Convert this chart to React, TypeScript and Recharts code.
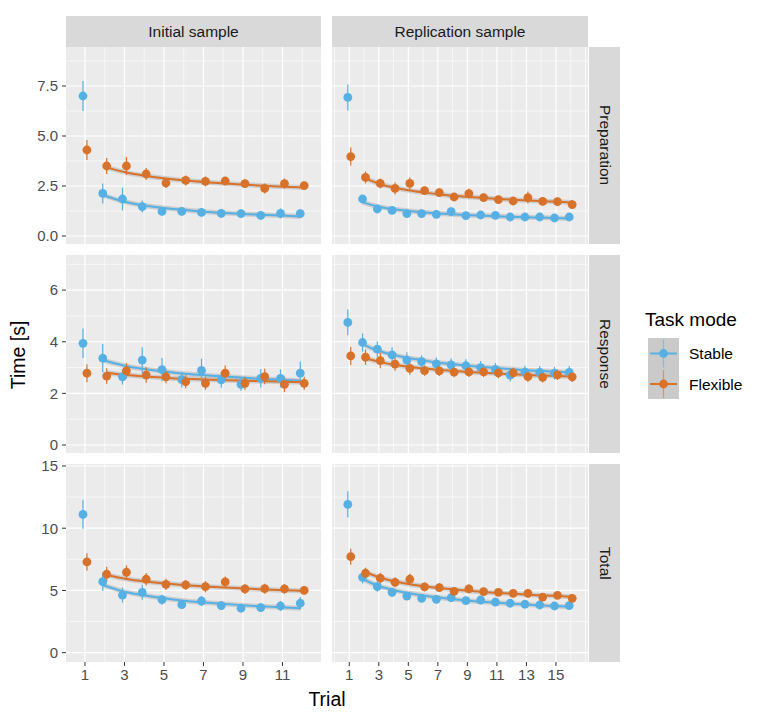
import React from "react";
import {
  ComposedChart,
  ErrorBar,
  Line,
  ReferenceLine,
  Scatter,
  XAxis,
  YAxis,
} from "recharts";

const STABLE = "#56B0E4";
const FLEX = "#D8722A";
const FONT = "Helvetica, Arial, 'Liberation Sans', sans-serif";

const columns = ["Initial sample", "Replication sample"];
const rows = ["Preparation", "Response", "Total"];

const trialsInitial = [1, 2, 3, 4, 5, 6, 7, 8, 9, 10, 11, 12];
const trialsReplication = [1, 2, 3, 4, 5, 6, 7, 8, 9, 10, 11, 12, 13, 14, 15, 16];

// --- Preparation ---
const prepInitStable = [7.0, 2.13, 1.85, 1.47, 1.23, 1.23, 1.18, 1.13, 1.12, 1.03, 1.13, 1.12];
const prepInitStableErr = [0.75, 0.5, 0.57, 0.3, 0.2, 0.2, 0.2, 0.2, 0.2, 0.2, 0.25, 0.2];
const prepInitFlex = [4.3, 3.5, 3.5, 3.1, 2.65, 2.78, 2.73, 2.75, 2.62, 2.38, 2.62, 2.52];
const prepInitFlexErr = [0.5, 0.4, 0.45, 0.3, 0.25, 0.25, 0.25, 0.2, 0.2, 0.25, 0.25, 0.2];
const prepInitStableFit = [2.05, 1.74, 1.54, 1.41, 1.31, 1.23, 1.16, 1.11, 1.06, 1.02, 0.98];
const prepInitFlexFit = [3.43, 3.17, 3.0, 2.87, 2.77, 2.69, 2.62, 2.56, 2.51, 2.46, 2.42];

const prepRepStable = [6.93, 1.85, 1.35, 1.28, 1.12, 1.12, 1.08, 1.22, 1.02, 1.05, 1.03, 0.95, 0.95, 0.95, 0.9, 0.95];
const prepRepStableErr = [0.65, 0.2, 0.15, 0.15, 0.12, 0.12, 0.12, 0.2, 0.12, 0.12, 0.12, 0.1, 0.1, 0.1, 0.1, 0.1];
const prepRepFlex = [3.97, 2.93, 2.63, 2.38, 2.63, 2.27, 2.17, 1.95, 2.12, 1.92, 1.82, 1.75, 1.92, 1.73, 1.72, 1.57];
const prepRepFlexErr = [0.45, 0.3, 0.25, 0.3, 0.3, 0.2, 0.2, 0.2, 0.25, 0.2, 0.2, 0.2, 0.3, 0.2, 0.2, 0.2];
const prepRepStableFit = [1.68, 1.48, 1.35, 1.26, 1.19, 1.14, 1.09, 1.05, 1.02, 0.99, 0.96, 0.94, 0.92, 0.9, 0.88];
const prepRepFlexFit = [2.88, 2.59, 2.41, 2.27, 2.17, 2.08, 2.01, 1.95, 1.9, 1.85, 1.81, 1.77, 1.74, 1.71, 1.68];

// --- Response ---
const respInitStable = [3.94, 3.36, 2.64, 3.29, 2.92, 2.53, 2.89, 2.52, 2.35, 2.58, 2.58, 2.78];
const respInitStableErr = [0.57, 0.55, 0.3, 0.5, 0.45, 0.3, 0.45, 0.3, 0.25, 0.35, 0.35, 0.45];
const respInitFlex = [2.78, 2.67, 2.87, 2.71, 2.64, 2.45, 2.39, 2.78, 2.39, 2.65, 2.35, 2.39];
const respInitFlexErr = [0.35, 0.3, 0.3, 0.3, 0.25, 0.25, 0.25, 0.3, 0.25, 0.3, 0.3, 0.25];
const respInitStableFit = [3.29, 3.09, 2.95, 2.86, 2.77, 2.71, 2.66, 2.61, 2.56, 2.53, 2.49];
const respInitFlexFit = [2.8, 2.71, 2.65, 2.6, 2.57, 2.54, 2.51, 2.49, 2.47, 2.45, 2.43];

const respRepStable = [4.75, 3.97, 3.71, 3.49, 3.29, 3.23, 3.14, 3.1, 3.07, 3.0, 2.93, 2.71, 2.82, 2.81, 2.78, 2.81];
const respRepStableErr = [0.5, 0.35, 0.3, 0.3, 0.3, 0.25, 0.25, 0.25, 0.25, 0.25, 0.25, 0.25, 0.25, 0.25, 0.25, 0.25];
const respRepFlex = [3.45, 3.4, 3.27, 3.13, 2.97, 2.88, 2.87, 2.82, 2.83, 2.83, 2.79, 2.79, 2.65, 2.62, 2.72, 2.64];
const respRepFlexErr = [0.35, 0.3, 0.3, 0.25, 0.25, 0.2, 0.2, 0.2, 0.2, 0.2, 0.2, 0.2, 0.2, 0.2, 0.2, 0.2];
const respRepStableFit = [3.91, 3.66, 3.5, 3.38, 3.29, 3.2, 3.14, 3.08, 3.03, 2.98, 2.94, 2.9, 2.87, 2.84, 2.81];
const respRepFlexFit = [3.36, 3.21, 3.1, 3.03, 2.96, 2.91, 2.87, 2.83, 2.8, 2.77, 2.74, 2.71, 2.69, 2.67, 2.65];

// --- Total ---
const totInitStable = [11.11, 5.7, 4.63, 4.85, 4.26, 3.86, 4.15, 3.78, 3.57, 3.62, 3.75, 3.97];
const totInitStableErr = [1.15, 0.75, 0.6, 0.6, 0.4, 0.35, 0.4, 0.35, 0.3, 0.35, 0.4, 0.5];
const totInitFlex = [7.29, 6.3, 6.46, 5.9, 5.49, 5.44, 5.3, 5.68, 5.12, 5.14, 5.12, 5.01];
const totInitFlexErr = [0.7, 0.6, 0.55, 0.5, 0.45, 0.4, 0.45, 0.45, 0.4, 0.4, 0.4, 0.35];
const totInitStableFit = [5.44, 4.94, 4.63, 4.39, 4.2, 4.05, 3.93, 3.82, 3.73, 3.64, 3.57];
const totInitFlexFit = [6.24, 5.92, 5.71, 5.55, 5.42, 5.32, 5.23, 5.15, 5.08, 5.02, 4.96];

const totRepStable = [11.92, 6.05, 5.3, 4.85, 4.55, 4.37, 4.29, 4.42, 4.18, 4.23, 4.07, 3.97, 3.89, 3.83, 3.75, 3.78];
const totRepStableErr = [1.05, 0.5, 0.4, 0.35, 0.3, 0.3, 0.3, 0.3, 0.3, 0.3, 0.3, 0.25, 0.25, 0.25, 0.25, 0.25];
const totRepFlex = [7.71, 6.38, 5.98, 5.65, 5.9, 5.28, 5.22, 4.93, 5.12, 4.9, 4.85, 4.77, 4.77, 4.47, 4.61, 4.37];
const totRepFlexErr = [0.65, 0.45, 0.45, 0.4, 0.45, 0.35, 0.35, 0.35, 0.35, 0.3, 0.3, 0.3, 0.35, 0.3, 0.3, 0.3];
const totRepStableFit = [5.92, 5.4, 5.06, 4.81, 4.61, 4.45, 4.32, 4.2, 4.1, 4.02, 3.94, 3.87, 3.8, 3.74, 3.69];
const totRepFlexFit = [6.46, 6.02, 5.72, 5.5, 5.33, 5.19, 5.08, 4.97, 4.88, 4.8, 4.73, 4.66, 4.6, 4.55, 4.5];

// axes
const xTicksInitial = [1, 3, 5, 7, 9, 11];
const xMinorInitial = [2, 4, 6, 8, 10, 12];
const xTicksReplication = [1, 3, 5, 7, 9, 11, 13, 15];
const xMinorReplication = [0, 2, 4, 6, 8, 10, 12, 14, 16, 17];
const xDomains: [number, number][] = [[0.04, 12.95], [-0.17, 17.17]];

const yTicks = [[0, 2.5, 5, 7.5], [0, 2, 4, 6], [0, 5, 10, 15]];
const yMinor = [[1.25, 3.75, 6.25, 8.75], [1, 3, 5, 7], [2.5, 7.5, 12.5]];
const yDomains: [number, number][] = [[-0.4, 9.45], [-0.31, 7.36], [-0.75, 15.16]];

const panels = [
  [
    [prepInitStable, prepInitStableErr, prepInitFlex, prepInitFlexErr, prepInitStableFit, prepInitFlexFit],
    [prepRepStable, prepRepStableErr, prepRepFlex, prepRepFlexErr, prepRepStableFit, prepRepFlexFit],
  ],
  [
    [respInitStable, respInitStableErr, respInitFlex, respInitFlexErr, respInitStableFit, respInitFlexFit],
    [respRepStable, respRepStableErr, respRepFlex, respRepFlexErr, respRepStableFit, respRepFlexFit],
  ],
  [
    [totInitStable, totInitStableErr, totInitFlex, totInitFlexErr, totInitStableFit, totInitFlexFit],
    [totRepStable, totRepStableErr, totRepFlex, totRepFlexErr, totRepStableFit, totRepFlexFit],
  ],
];

// layout
const COL_X = [66, 332];
const PANEL_W = [255, 256];
const ROW_Y = [47, 255, 464];
const PANEL_H = [197, 198, 198];
const Y_AXIS_W = 66;
const X_AXIS_H = 32;
const PAD = 10; // room for tick labels sitting on the panel edge
const DODGE = 0.1;

const tickStyle = { fontSize: 15, fill: "#4D4D4D", fontFamily: FONT };

const dot = (color: string) => (props: any) =>
  <circle cx={props.cx} cy={props.cy} r={4.4} fill={color} />;

function Panel({ row, col }: { row: number; col: number }) {
  const trials = col === 0 ? trialsInitial : trialsReplication;
  const [sMean, sErr, fMean, fErr, sFit, fFit] = panels[row][col];
  const sPts = trials.map((t, i) => ({ x: t - DODGE, y: sMean[i], err: sErr[i] }));
  const fPts = trials.map((t, i) => ({ x: t + DODGE, y: fMean[i], err: fErr[i] }));
  const sLine = trials.slice(1).map((t, i) => ({ x: t - DODGE, y: sFit[i] }));
  const fLine = trials.slice(1).map((t, i) => ({ x: t + DODGE, y: fFit[i] }));
  const showY = col === 0;
  const showX = row === 2;
  const w = PANEL_W[col] + (showY ? Y_AXIS_W : 0);
  const h = PANEL_H[row] + PAD + (showX ? X_AXIS_H : 0);
  const left = showY ? COL_X[col] - Y_AXIS_W : COL_X[col];
  const xMajor = col === 0 ? xTicksInitial : xTicksReplication;
  const xMinor = col === 0 ? xMinorInitial : xMinorReplication;

  return (
    <>
      <div
        style={{
          position: "absolute",
          left: COL_X[col],
          top: ROW_Y[row],
          width: PANEL_W[col],
          height: PANEL_H[row],
          background: "#EBEBEB",
        }}
      />
      <div style={{ position: "absolute", left, top: ROW_Y[row] - PAD }}>
        <ComposedChart width={w} height={h} margin={{ top: PAD, right: 0, bottom: 0, left: 0 }}>
          <XAxis
            type="number"
            dataKey="x"
            domain={xDomains[col]}
            allowDataOverflow
            ticks={xMajor}
            hide={!showX}
            height={X_AXIS_H}
            axisLine={false}
            tickSize={4}
            tickMargin={3}
            tickLine={{ stroke: "#333333" }}
            tick={tickStyle}
            interval={0}
          />
          <YAxis
            type="number"
            dataKey="y"
            domain={yDomains[row]}
            allowDataOverflow
            ticks={yTicks[row]}
            hide={!showY}
            width={Y_AXIS_W}
            axisLine={false}
            tickSize={4}
            tickMargin={4}
            tickLine={{ stroke: "#333333" }}
            tick={tickStyle}
            interval={0}
            tickFormatter={(v: number) => (row === 0 ? v.toFixed(1) : String(v))}
          />
          {yMinor[row].map((v) => (
            <ReferenceLine key={"ym" + v} y={v} stroke="#fff" strokeWidth={0.6} zIndex={-90} />
          ))}
          {xMinor.map((v) => (
            <ReferenceLine key={"xm" + v} x={v} stroke="#fff" strokeWidth={0.6} zIndex={-90} />
          ))}
          {yTicks[row].map((v) => (
            <ReferenceLine key={"y" + v} y={v} stroke="#fff" strokeWidth={1.2} zIndex={-80} />
          ))}
          {xMajor.map((v) => (
            <ReferenceLine key={"x" + v} x={v} stroke="#fff" strokeWidth={1.2} zIndex={-80} />
          ))}
          <Line data={sLine} dataKey="y" type="monotone" stroke="#999999" strokeOpacity={0.35} strokeWidth={5} dot={false} isAnimationActive={false} />
          <Line data={fLine} dataKey="y" type="monotone" stroke="#999999" strokeOpacity={0.35} strokeWidth={5} dot={false} isAnimationActive={false} />
          <Line data={sLine} dataKey="y" type="monotone" stroke={STABLE} strokeWidth={2} dot={false} isAnimationActive={false} />
          <Line data={fLine} dataKey="y" type="monotone" stroke={FLEX} strokeWidth={2} dot={false} isAnimationActive={false} />
          <Scatter data={sPts} dataKey="y" shape={dot(STABLE)} isAnimationActive={false}>
            <ErrorBar dataKey="err" direction="y" width={0} stroke={STABLE} strokeWidth={1.2} />
          </Scatter>
          <Scatter data={fPts} dataKey="y" shape={dot(FLEX)} isAnimationActive={false}>
            <ErrorBar dataKey="err" direction="y" width={0} stroke={FLEX} strokeWidth={1.2} />
          </Scatter>
        </ComposedChart>
      </div>
    </>
  );
}

const stripText: React.CSSProperties = {
  position: "absolute",
  background: "#D9D9D9",
  color: "#1A1A1A",
  fontSize: 15.5,
  fontFamily: FONT,
  display: "flex",
  alignItems: "center",
  justifyContent: "center",
};

export default function App() {
  return (
    <div
      style={{
        position: "absolute",
        left: 0,
        top: 0,
        width: 765,
        height: 719,
        background: "#fff",
        fontFamily: FONT,
      }}
    >
      {columns.map((c, ci) => (
        <div key={c} style={{ ...stripText, left: COL_X[ci], top: 16, width: PANEL_W[ci], height: 31 }}>
          {c}
        </div>
      ))}
      {rows.map((r, ri) => (
        <div
          key={r}
          style={{ ...stripText, left: 589, top: ROW_Y[ri], width: 31, height: PANEL_H[ri] }}
        >
          <span style={{ writingMode: "vertical-rl" }}>{r}</span>
        </div>
      ))}
      {rows.map((r, ri) =>
        columns.map((c, ci) => <Panel key={r + c} row={ri} col={ci} />)
      )}
      <div
        style={{
          position: "absolute",
          left: 18,
          top: 355,
          transform: "translate(-50%, -50%) rotate(-90deg)",
          fontSize: 19.5,
          color: "#000",
          whiteSpace: "nowrap",
        }}
      >
        Time [s]
      </div>
      <div
        style={{
          position: "absolute",
          left: 327,
          top: 699,
          transform: "translate(-50%, -50%)",
          fontSize: 19.5,
          color: "#000",
        }}
      >
        Trial
      </div>
      <svg style={{ position: "absolute", left: 630, top: 300 }} width={135} height={110}>
        <text x={15} y={26} fontSize={19} fontFamily={FONT} fill="#000">
          Task mode
        </text>
        <rect x={18} y={38} width={31} height={61} fill="#CACACA" />
        {[
          { label: "Stable", color: STABLE, cy: 53.5 },
          { label: "Flexible", color: FLEX, cy: 84 },
        ].map((k) => (
          <g key={k.label}>
            <line x1={33.5} x2={33.5} y1={k.cy - 14} y2={k.cy + 14} stroke={k.color} strokeOpacity={0.6} strokeWidth={1.2} />
            <line x1={20} x2={47} y1={k.cy} y2={k.cy} stroke={k.color} strokeWidth={2} />
            <circle cx={33.5} cy={k.cy} r={4.4} fill={k.color} />
            <text x={59} y={k.cy + 5.5} fontSize={15.5} fontFamily={FONT} fill="#000">
              {k.label}
            </text>
          </g>
        ))}
      </svg>
    </div>
  );
}
